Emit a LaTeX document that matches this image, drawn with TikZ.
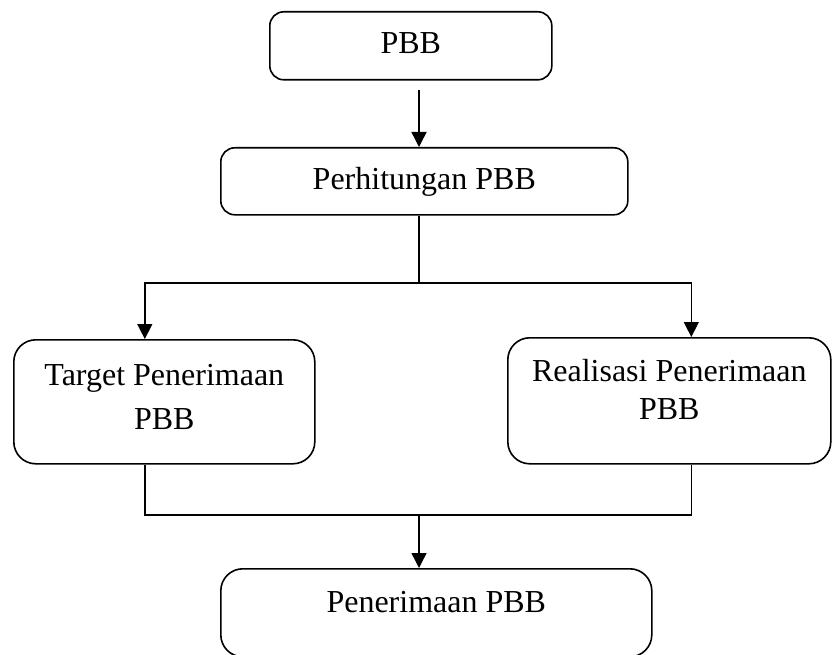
\documentclass[tikz,border=0pt]{standalone}
\usepackage{fontspec}
\setmainfont{Liberation Serif}
\usetikzlibrary{arrows.meta,calc}
\begin{document}
\begin{tikzpicture}[x=1pt,y=1pt,
  kotak/.style={draw,line width=1.6pt,rounded corners=14pt,inner xsep=0pt,inner ysep=0pt,
    align=center,font=\fontsize{32}{44}\selectfont},
  garis/.style={line width=1.4pt},
  panah/.style={garis,-{Triangle[length=15pt,width=15pt]}}]
\useasboundingbox (0,0) rectangle (832,-655);
\coordinate (sumbu) at (419,0);
\coordinate (cab1) at (419,-283);
\coordinate (cab2) at (419,-515);
% kotak-kotak
\node[kotak,anchor=north west,minimum width=282pt,text height=42pt,text depth=26pt] (pbb) at (269,-11) {PBB};
\node[kotak,anchor=north west,minimum width=407pt,text height=42pt,text depth=25pt] (hitung) at (220,-147) {Perhitungan PBB};
\node[kotak,rounded corners=22pt,anchor=north west,minimum width=301pt,text height=90pt,text depth=34pt] (target) at (13,-339) {Target Penerimaan\\PBB};
\node[kotak,rounded corners=22pt,anchor=north west,minimum width=323pt,text height=82pt,text depth=44pt,font=\fontsize{32}{38}\selectfont] (realisasi) at (507,-337) {Realisasi Penerimaan\\PBB};
\node[kotak,rounded corners=22pt,anchor=north west,minimum width=431pt,text height=44pt,text depth=44pt] (terima) at (220,-568) {Penerimaan PBB};
% panah
\draw[panah] ($(sumbu |- pbb.south)+(0,-9)$) -- (sumbu |- hitung.north);
\draw[garis] (sumbu |- hitung.south) -- (cab1);
\draw[panah] (cab1) -| ([xshift=-19.5pt]target.north);
\draw[panah] (cab1) -| ([xshift=22pt]realisasi.north);
\draw[garis] ([xshift=-19.5pt]target.south) |- (cab2) -| ([xshift=22pt]realisasi.south);
\draw[panah] (cab2) -- (cab2 |- terima.north);
\end{tikzpicture}
\end{document}
